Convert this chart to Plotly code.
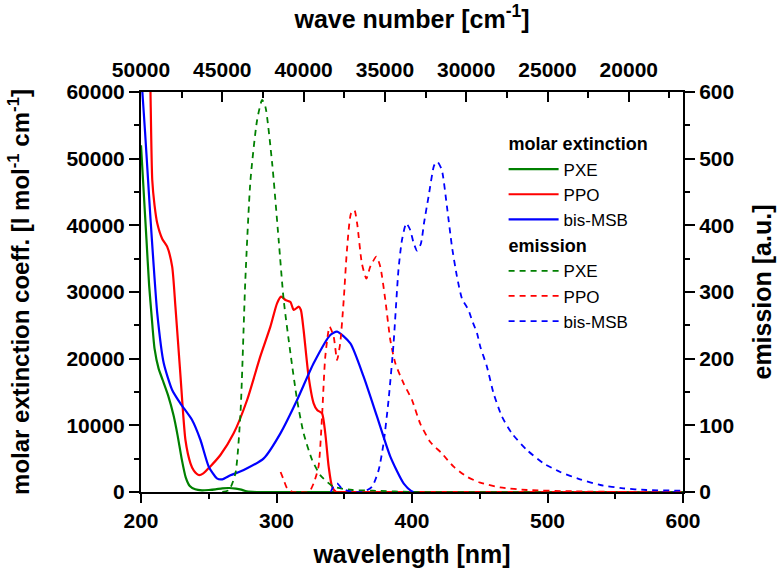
import plotly.graph_objects as go

# ---------------- data ----------------
# molar extinction (left axis)
pxe_abs_wl = [200, 202, 204, 206, 208, 210, 213, 216, 220, 224, 227, 230, 233, 236, 240, 245, 250,
              255, 260, 265, 270, 274, 278, 285, 300, 400, 600]
pxe_abs = [52000, 45000, 38000, 31000, 26000, 21500, 18500, 16800, 14500, 11500, 8500, 5000, 2200,
           900, 400, 250, 300, 400, 550, 600, 500, 350, 100, 0, 0, 0, 0]

ppo_abs_wl = [206.5, 207, 208.3, 210, 212, 215.6, 219.3, 223, 225.4, 229, 232.8, 236.5, 239, 242.6,
              246, 251, 258.6, 268.4, 278.3, 288, 295.5, 300.4, 303.4, 306.6, 310.3, 312.7, 316.4,
              318, 320, 323.7, 327.4, 330, 333.6, 336, 338.5, 341, 344, 350, 600]
ppo_abs = [66000, 60000, 46800, 43000, 40300, 38000, 36800, 33800, 27800, 17800, 7800, 4300, 3200,
           2550, 2800, 3800, 5550, 8800, 13800, 20300, 24800, 28300, 29300, 28800, 28500, 27300,
           27800, 27300, 24300, 17300, 13300, 12300, 11800, 8800, 3800, 800, 0, 0, 0]

msb_abs_wl = [200, 201, 203, 205, 207, 209, 212, 216.8, 223, 229, 237.7, 243.9, 250, 256, 260, 266,
              275.8, 290.6, 302.9, 315.2, 327.4, 339.7, 344.7, 354.5, 364.3, 374.2, 384, 393.8,
              401, 600]
msb_abs = [63000, 60000, 54000, 47500, 41000, 35000, 26800, 19300, 15300, 13300, 10800, 7800, 3800,
           2050, 1900, 2500, 3300, 5050, 8800, 13800, 19300, 23550, 24050, 22300, 17300, 11300,
           5300, 1300, 0, 0]

# emission (right axis)
pxe_em_wl = [260, 265, 269.7, 273.4, 277, 280.8, 285.7, 289.4, 291.8, 296.8, 301.6, 305.3, 310.3,
             315.2, 320, 326.3, 332.4, 342, 356, 371, 400, 600]
pxe_em = [0, 3, 28, 118, 318, 468, 558, 588, 578, 493, 378, 288, 208, 138, 88, 48, 25, 8, 3, 2, 0, 0]

ppo_em_wl = [303, 305, 308, 312, 318, 324, 327.4, 331, 333.6, 336, 339.2, 342.2, 344.7, 347, 349.6,
             352, 355, 357.5, 359.5, 363, 366.3, 369.2, 373.7, 376.6, 380.3, 384, 387.7, 393.8,
             400, 406, 413.5, 422, 430.7, 440.5, 450.4, 465, 485, 520, 560, 600]
ppo_em = [30, 20, 5, 0, 0, 0, 13, 38, 113, 203, 248, 233, 198, 223, 288, 363, 418, 423, 403, 343,
          320, 338, 353, 338, 288, 228, 193, 163, 138, 103, 75, 58, 38, 23, 14, 7, 3, 1, 0, 0]

msb_em_wl = [340, 342, 344.7, 348, 352, 358, 364, 370.5, 375.4, 379, 382.7, 386.4, 390, 392.6,
             395.8, 398.7, 401, 403.7, 406.5, 409, 412.2, 416, 417.2, 418.9, 422, 425.8, 429.5,
             433.2, 436.9, 441.7, 444.2, 448, 450.4, 455.3, 460.2, 466.4, 473.7, 484.8, 497,
             509.4, 524, 538.9, 556, 573, 598, 600]
msb_em = [0, 8, 13, 6, 2, 0, 0, 8, 33, 73, 138, 223, 333, 378, 403, 393, 375, 362, 372, 405, 443,
          488, 493, 495, 483, 428, 368, 323, 290, 273, 258, 238, 218, 188, 148, 113, 88, 63, 43,
          30, 19, 10.5, 5.5, 3, 2, 2]

names = ["PXE", "PPO", "bis-MSB"]
colors = ["#008000", "#ff0000", "#0000ff"]

# top axis (wave number) range endpoints
wn_range = [50000, 1e7 / 600]

# ---------------- figure ----------------
fig = go.Figure()
FONT = "Liberation Sans, Arial, sans-serif"

abs_sets = [(pxe_abs_wl, pxe_abs), (ppo_abs_wl, ppo_abs), (msb_abs_wl, msb_abs)]
em_sets = [(pxe_em_wl, pxe_em), (ppo_em_wl, ppo_em), (msb_em_wl, msb_em)]

gtfont = dict(family=FONT, size=18, color="black", weight="bold")

for i, (wl, v) in enumerate(abs_sets):
    fig.add_trace(go.Scatter(
        x=wl, y=v, mode="lines", name=names[i],
        line=dict(color=colors[i], width=2.2, shape="spline", smoothing=0.6),
        legendgroup="abs",
        legendgrouptitle=dict(text="molar extinction", font=gtfont),
        xaxis="x", yaxis="y"))

for i, (wl, v) in enumerate(em_sets):
    fig.add_trace(go.Scatter(
        x=wl, y=v, mode="lines", name=names[i],
        line=dict(color=colors[i], width=1.8, dash="6px,5px", shape="spline", smoothing=0.6),
        legendgroup="em",
        legendgrouptitle=dict(text="emission", font=gtfont),
        xaxis="x", yaxis="y2"))

# dummy trace to activate the top axis
fig.add_trace(go.Scatter(x=wn_range, y=[None, None], xaxis="x2", yaxis="y",
                         showlegend=False, hoverinfo="skip", mode="lines"))

tickfont = dict(family=FONT, size=21, color="black", weight="bold")
titlefont = dict(family=FONT, size=25, color="black", weight="bold")

common = dict(showgrid=False, zeroline=False, showline=True, linewidth=2, linecolor="black",
              tickwidth=2, tickcolor="black", tickfont=tickfont, tickformat="d")

fig.update_layout(
    width=779, height=572,
    margin=dict(l=141, r=96, t=92, b=80),
    paper_bgcolor="white", plot_bgcolor="white",
    xaxis=dict(range=[200, 600], tick0=200, dtick=100, ticks="outside", ticklen=9,
               minor=dict(dtick=50, ticks="outside", ticklen=5, tickwidth=2, tickcolor="black"),
               title=dict(text="wavelength [nm]", font=titlefont, standoff=14),
               automargin=False, **common),
    xaxis2=dict(range=wn_range, overlaying="x", side="top", tick0=50000, dtick=5000,
                ticks="inside", ticklen=10, ticklabelstandoff=5,
                minor=dict(dtick=2500, ticks="inside", ticklen=6, tickwidth=2, tickcolor="black"),
                title=dict(text="wave number [cm<sup>-1</sup>]", font=titlefont, standoff=22),
                automargin=False, **common),
    yaxis=dict(range=[0, 60000], tick0=0, dtick=10000, ticks="outside", ticklen=10,
               minor=dict(dtick=5000, ticks="outside", ticklen=5, tickwidth=2, tickcolor="black"),
               title=dict(text="molar extinction coeff. [l mol<sup>-1</sup> cm<sup>-1</sup>]",
                          font=dict(family=FONT, size=24, color="black", weight="bold"),
                          standoff=30),
               automargin=False, **common),
    yaxis2=dict(range=[0, 600], overlaying="y", side="right", tick0=0, dtick=100,
                ticks="outside", ticklen=10,
                minor=dict(dtick=50, ticks="outside", ticklen=5, tickwidth=2, tickcolor="black"),
                title=dict(text="emission [a.u.]", font=titlefont, standoff=20),
                automargin=False, **common),
    legend=dict(x=0.669, y=0.917, xanchor="left", yanchor="top", traceorder="grouped",
                tracegroupgap=0, bgcolor="rgba(0,0,0,0)", itemwidth=50,
                font=dict(family=FONT, size=17, color="black")),
    showlegend=True,
)

fig.write_html("out.html")
